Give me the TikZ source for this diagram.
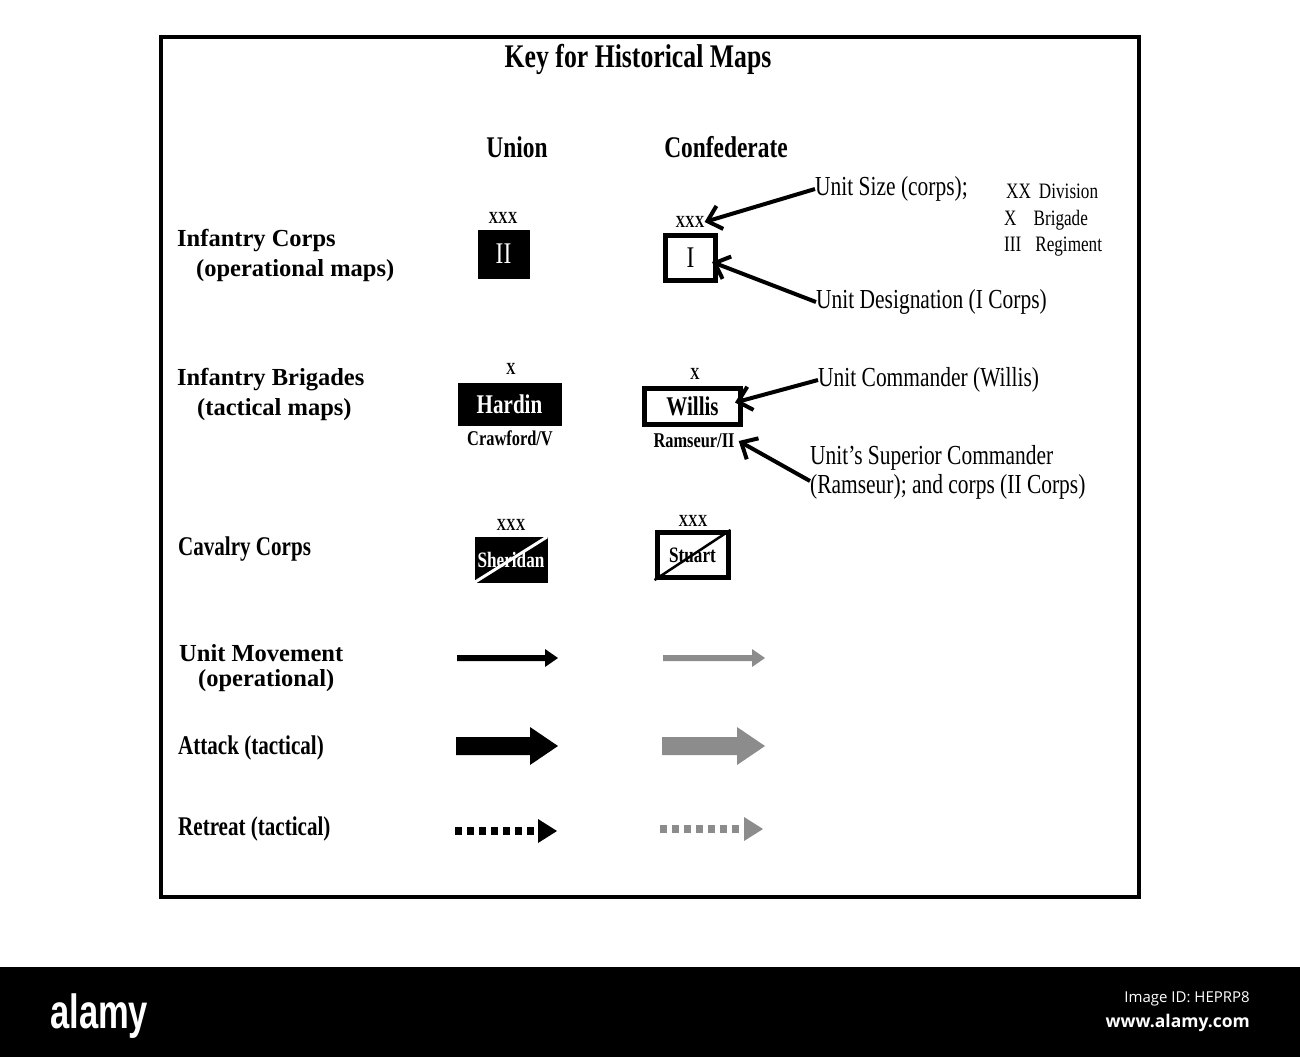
\documentclass[tikz,border=0pt]{standalone}
\usepackage{fontspec}
\setmainfont{Liberation Serif}[FakeStretch=0.78]
\newfontfamily\wideserif{Liberation Serif}
\newfontfamily\wmfont{Open Sans}
\newfontfamily\alamyfont{Liberation Sans}[FakeStretch=0.72]
\usetikzlibrary{arrows.meta}
\definecolor{confgray}{RGB}{140,140,140}
\begin{document}
\begin{tikzpicture}[x=1pt,y=-1pt,
  hdr/.style={font=\fontsize{30}{32}\selectfont\bfseries},
  rowlab/.style={font=\wideserif\fontsize{24.5}{28}\selectfont\bfseries,anchor=west,inner sep=0pt},
  rowlabc/.style={font=\fontsize{27}{30}\selectfont\bfseries,anchor=west,inner sep=0pt},
  size/.style={font=\fontsize{17}{18}\selectfont\bfseries,inner sep=0pt},
  note/.style={font=\fontsize{27.5}{29}\selectfont,anchor=west,inner sep=0pt},
  small/.style={font=\fontsize{22}{24}\selectfont,anchor=west,inner sep=0pt},
  ubox/.style={fill=black,draw=black,text=white,inner sep=0pt},
  cbox/.style={draw=black,line width=5pt,fill=white,inner sep=0pt},
  pointer/.style={line width=4pt,-{Straight Barb[length=13pt,width=24pt,line width=4pt]}}
]
\useasboundingbox (0,0) rectangle (1300,1057);
\fill[white] (0,0) rectangle (1300,1057);
\draw[line width=4pt] (161,37) rectangle (1139,897);

\node[font=\fontsize{33}{34}\selectfont\bfseries] (title) at (638,59) {Key for Historical Maps};
\node[hdr] (union) at (517,147) {Union};
\node[hdr] (conf) at (726,147) {Confederate};

% row labels
\node[rowlab] (l1a) at (177,241) {Infantry Corps};
\node[rowlab] (l1b) at (196,271) {(operational maps)};
\node[rowlab] (l2a) at (177,380) {Infantry Brigades};
\node[rowlab] (l2b) at (197,410) {(tactical maps)};
\node[rowlabc] (l3) at (178,549) {Cavalry Corps};
\node[rowlab] (l4a) at (179,653) {Unit Movement};
\node[rowlab] (l4b) at (198,681) {(operational)};
\node[rowlabc] (l5) at (178,748) {Attack (tactical)};
\node[rowlabc] (l6) at (178,829) {Retreat (tactical)};

% infantry corps
\node[ubox,minimum width=51pt,minimum height=48pt,font=\fontsize{30}{30}\selectfont] (uc) at (503.5,254) {II};
\node[size] (ucs) at (503,218) {XXX};
\node[cbox,minimum width=50pt,minimum height=45pt,font=\fontsize{30}{30}\selectfont] (cc) at (690.5,258) {I};
\node[size] (ccs) at (690,222) {XXX};

% brigades
\node[ubox,minimum width=103pt,minimum height=42pt,font=\fontsize{27}{27}\selectfont\bfseries] (ub) at (509.5,404) {Hardin};
\node[size] (ubs) at (511,369) {X};
\node[font=\fontsize{21}{22}\selectfont\bfseries,inner sep=0pt] (ubc) at (510,438) {Crawford/V};
\node[cbox,minimum width=96pt,minimum height=36pt,font=\fontsize{27}{27}\selectfont\bfseries] (cb) at (692.5,406.5) {Willis};
\node[size] (cbs) at (695,374) {X};
\node[font=\fontsize{21}{22}\selectfont\bfseries,inner sep=0pt] (cbc) at (694,441) {Ramseur/II};

% cavalry
\node[ubox,minimum width=72pt,minimum height=45pt,font=\fontsize{22}{22}\selectfont\bfseries] (uv) at (511,559.5) {Sheridan};
\draw[white,line width=3pt] (uv.south west) -- (uv.north east);
\node[size] (uvs) at (511,525) {XXX};
\node[cbox,minimum width=71pt,minimum height=45pt,font=\fontsize{22}{22}\selectfont\bfseries] (cv) at (692.5,555) {Stuart};
\draw[black,line width=2.5pt] (cv.south west) -- (cv.north east);
\node[size] (cvs) at (693,521) {XXX};

% notes
\node[note] (n1) at (815,189) {Unit Size (corps);};
\node[small] (k1) at (1006,191) {XX\hspace{8pt}Division};
\node[small] (k2) at (1004,220) {X\hspace{17pt}Brigade};
\node[small] (k3) at (1004,247) {III\hspace{14pt}Regiment};
\node[note] (n2) at (816,302) {Unit Designation (I Corps)};
\node[note] (n3) at (818,380) {Unit Commander (Willis)};
\node[note,align=left] (n4) at (810,472) {Unit’s Superior Commander\\(Ramseur); and corps (II Corps)};

\draw[pointer] (n1.west) -- (ccs.east);
\draw[pointer] (n2.west) -- ([xshift=-6pt,yshift=-4pt]cc.east);
\draw[pointer] (n3.west) -- ([xshift=-8pt,yshift=4pt]cb.east);
\draw[pointer] ([yshift=-9pt]n4.west) -- ([xshift=4pt]cbc.east);

% movement arrows
\coordinate (m1s) at (457,658); \coordinate (m1e) at (558,658);
\coordinate (m2s) at (663,658); \coordinate (m2e) at (765,658);
\fill[black] (m1s) ++(0,-3) -- ++(88,0) -- ++(0,-6) -- (m1e) -- ++(-13,9) -- ++(0,-6) -- ++(-88,0) -- cycle;
\fill[confgray] (m2s) ++(0,-3) -- ++(89,0) -- ++(0,-6) -- (m2e) -- ++(-13,9) -- ++(0,-6) -- ++(-89,0) -- cycle;

% attack arrows
\coordinate (a1s) at (456,746); \coordinate (a1e) at (558,746);
\coordinate (a2s) at (662,746); \coordinate (a2e) at (765,746);
\fill[black] (a1s) ++(0,-9) -- ++(74,0) -- ++(0,-10) -- (a1e) -- ++(-28,19) -- ++(0,-10) -- ++(-74,0) -- cycle;
\fill[confgray] (a2s) ++(0,-9) -- ++(75,0) -- ++(0,-10) -- (a2e) -- ++(-28,19) -- ++(0,-10) -- ++(-75,0) -- cycle;

% retreat arrows
\coordinate (r1s) at (455,831); \coordinate (r1e) at (557,831);
\coordinate (r2s) at (660,829); \coordinate (r2e) at (763,829);
\draw[black,line width=8pt,dash pattern=on 7pt off 5pt] (r1s) -- ++(83,0);
\fill[black] (r1e) -- ++(-19,-12) -- ++(0,24) -- cycle;
\draw[confgray,line width=8pt,dash pattern=on 7pt off 5pt] (r2s) -- ++(83,0);
\fill[confgray] (r2e) -- ++(-19,-12) -- ++(0,24) -- cycle;

% watermark bar
\fill[black] (0,967) rectangle (1300,1057);
\node[text=white,font=\alamyfont\fontsize{48}{48}\selectfont\bfseries,anchor=base west,inner sep=0pt] (wm) at (50,1028) {alamy};
\node[text=white,font=\wmfont\fontsize{15}{16}\selectfont,anchor=east,inner sep=0pt] (wid) at (1250,999) {Image ID: HEPRP8};
\node[text=white,font=\wmfont\fontsize{17.5}{18}\selectfont\bfseries,anchor=east,inner sep=0pt] (wurl) at (1250,1023) {www.alamy.com};
\end{tikzpicture}
\end{document}
